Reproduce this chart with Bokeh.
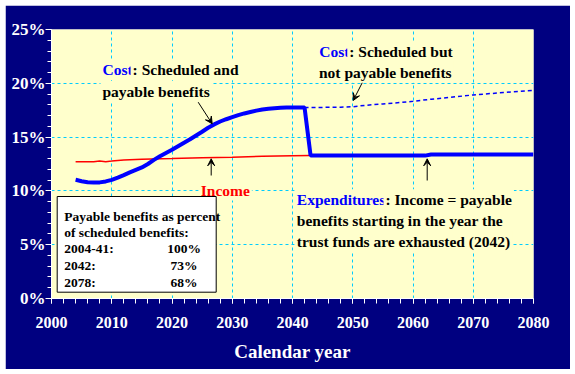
from bokeh.plotting import figure
from bokeh.models import (FixedTicker, Label, Arrow, VeeHead, BoxAnnotation,
                          PrintfTickFormatter, Range1d)
from bokeh.embed import file_html
from bokeh.resources import INLINE

# ---------------- data ----------------
cost_years = [2004, 2005, 2006, 2007, 2008, 2009, 2010, 2011, 2012, 2013,
              2014, 2015, 2016, 2017, 2018, 2019, 2020, 2021, 2022, 2023,
              2024, 2025, 2026, 2027, 2028, 2029, 2030, 2031, 2032, 2033,
              2034, 2035, 2036, 2037, 2038, 2039, 2040, 2041, 2042]
cost_pct = [11.03, 10.90, 10.81, 10.78, 10.79, 10.88, 11.03, 11.24, 11.47, 11.72,
            11.95, 12.18, 12.50, 12.88, 13.22, 13.52, 13.82, 14.15, 14.48, 14.80,
            15.15, 15.50, 15.87, 16.18, 16.45, 16.66, 16.85, 17.04, 17.20, 17.33,
            17.46, 17.57, 17.64, 17.69, 17.72, 17.74, 17.75, 17.75, 17.75]

payable_years = [2043, 2050, 2055, 2062, 2063, 2070, 2080]
payable_pct = [13.28, 13.28, 13.28, 13.28, 13.38, 13.38, 13.38]

sched_years = [2042, 2045, 2048, 2050, 2052, 2055, 2058, 2060, 2063, 2066, 2070, 2075, 2080]
sched_pct = [17.75, 17.76, 17.78, 17.82, 17.95, 18.08, 18.22, 18.33, 18.52, 18.68, 18.92, 19.14, 19.35]

income_years = [2004, 2007, 2008, 2009, 2010, 2012, 2015, 2020, 2025, 2030, 2035, 2040, 2043]
income_pct = [12.70, 12.72, 12.78, 12.72, 12.77, 12.88, 12.95, 13.00, 13.08, 13.12, 13.22, 13.27, 13.28]

x_ticks = [2000, 2010, 2020, 2030, 2040, 2050, 2060, 2070, 2080]
y_ticks = [0, 5, 10, 15, 20, 25]

box_rows = ["2004-41:", "2042:", "2078:"]
box_vals = ["100%", "73%", "68%"]

# ---------------- styling ----------------
NAVY = "#000080"
YELLOW = "#ffffcc"
GRID = "#00ccff"
BLUE = "#0000ff"
FONT = "Liberation Serif"

p = figure(frame_width=482, frame_height=269, margin=(5, 0, 0, 5),
           min_border_left=46, min_border_right=37, min_border_top=24, min_border_bottom=71,
           x_range=Range1d(2000, 2080), y_range=Range1d(0, 25),
           output_backend="svg", toolbar_location=None,
           background_fill_color=YELLOW, border_fill_color=NAVY,
           outline_line_color=None)

# axes
p.xaxis.ticker = FixedTicker(ticks=x_ticks, minor_ticks=list(range(2000, 2081, 2)))
p.yaxis.ticker = FixedTicker(ticks=y_ticks, minor_ticks=list(range(0, 26)))
p.yaxis.formatter = PrintfTickFormatter(format="%d%%")
for ax in (p.xaxis[0], p.yaxis[0]):
    ax.axis_line_color = "white"
    ax.major_tick_line_color = "white"
    ax.minor_tick_line_color = "white"
    ax.major_tick_in = 0
    ax.minor_tick_in = 0
    ax.major_label_text_color = "white"
    ax.major_label_text_font = FONT
    ax.major_label_text_font_style = "bold"
    ax.major_label_text_font_size = "16px"
p.xaxis.major_tick_out = 5
p.xaxis.minor_tick_out = 5
p.xaxis.major_label_standoff = 13
p.yaxis.major_tick_out = 6
p.yaxis.minor_tick_out = 4
p.yaxis.major_label_standoff = 0
p.yaxis.major_label_text_font_size = "17px"
p.xaxis.axis_label = "Calendar year"
p.xaxis.axis_label_text_color = "white"
p.xaxis.axis_label_text_font = FONT
p.xaxis.axis_label_text_font_style = "bold"
p.xaxis.axis_label_text_font_size = "19px"
p.xaxis.axis_label_standoff = 10

# grid
xg = p.xgrid[0]
yg = p.ygrid[0]
xg.ticker = FixedTicker(ticks=x_ticks[1:-1])
yg.ticker = FixedTicker(ticks=y_ticks[1:-1])
for g in (xg, yg):
    g.grid_line_color = GRID
    g.grid_line_alpha = 1.0
    g.grid_line_dash = "3 3"
    g.grid_line_width = 1

# lines
p.line(income_years, income_pct, line_color="#ff0000", line_width=1.5)
p.line(sched_years, sched_pct, line_color=BLUE, line_width=1.5, line_dash="4 3")
p.line(cost_years + payable_years, cost_pct + payable_pct, line_color=BLUE, line_width=4)


def dx(px):
    return 2000 + (px - 51) / 6.025


def dy(py):
    return (298 - py) / 10.76


def add_label(px, py, text, color="black", size="15.5px", align="left", bg=YELLOW):
    p.add_layout(Label(x=dx(px), y=dy(py), text=text, text_color=color,
                       text_font=FONT, text_font_style="bold", text_font_size=size,
                       text_align=align, text_baseline="alphabetic",
                       background_fill_color=bg, padding=2))


# text block 1
add_label(100, 69.3, "Cost", BLUE)
add_label(130.1, 69.3, ": Scheduled and")
add_label(100, 91, "payable benefits")
# text block 2
add_label(316.7, 51, "Cost", BLUE)
add_label(346.8, 51, ": Scheduled but")
add_label(316.5, 71.7, "not payable benefits")
# income
add_label(198.3, 189.5, "Income", "#ff0000")
# expenditures
add_label(294.3, 199.3, "Expenditures", BLUE)
add_label(383.0, 199.3, ": Income = payable")
add_label(294.3, 220, "benefits starting in the year the")
add_label(294.3, 241, "trust funds are exhausted (2042)")

# arrows
for (x0, y0, x1, y1) in [(197.7, 101.7, 211.7, 123.3), (361.7, 82.3, 352.7, 100),
                         (210.7, 175, 210.7, 158.3), (426.7, 180, 426.7, 158.3)]:
    p.add_layout(Arrow(x_start=dx(x0), y_start=dy(y0), x_end=dx(x1), y_end=dy(y1),
                       line_color="black", line_width=1,
                       end=VeeHead(size=7, fill_color="black", line_color="black")))

# box
p.add_layout(BoxAnnotation(left=dx(56.7), right=dx(215.7), top=dy(196), bottom=dy(291.7),
                           fill_color="white", fill_alpha=1, line_color="black",
                           line_width=1, line_alpha=1))
add_label(61.7, 215.7, "Payable benefits as percent", size="13.5px", bg=None)
add_label(61.7, 231.7, "of scheduled benefits:", size="13.5px", bg=None)
for i, (r, v) in enumerate(zip(box_rows, box_vals)):
    yy = [248.3, 265, 281.7][i]
    add_label(61.7, yy, r, size="13.5px", bg=None)
    add_label(183.5, yy, v, size="13.5px", align="center", bg=None)

open("out.html", "w").write(file_html(p, INLINE))
